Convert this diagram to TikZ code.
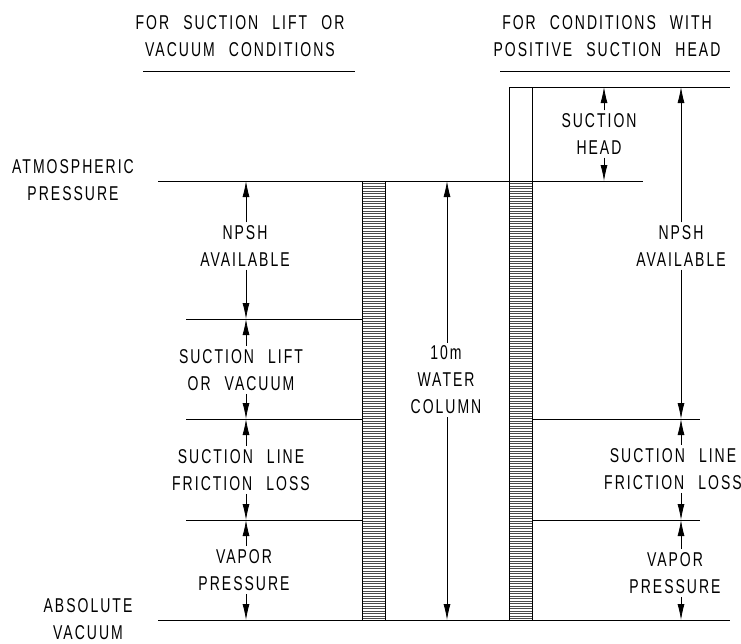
\documentclass[tikz,border=0pt]{standalone}
\usepackage{fontspec}
\setmainfont{Liberation Sans}[FakeStretch=0.7, LetterSpace=10, WordSpace=2.4]
\usetikzlibrary{arrows.meta}

\begin{document}
\begin{tikzpicture}[
  x=1pt, y=-1pt,
  every node/.style={align=center, inner sep=3pt, font=\fontsize{20}{27}\selectfont},
  level/.style={line width=0.8pt},
  dim/.style={-{Latex[length=16pt,width=7pt]}, line width=0.8pt},
  column/.style={draw, line width=1pt},
  hatch/.style={black!70, line width=0.6pt}
]

\useasboundingbox (0,0) rectangle (741,643);

% Levels and arrow positions
\coordinate (xL) at (246,0);
\coordinate (xW) at (447,0);
\coordinate (xH) at (604,0);
\coordinate (xR) at (681,0);
\coordinate (yTop) at (0,87);
\coordinate (yAtm) at (0,181);
\coordinate (yLift) at (0,319);
\coordinate (yFric) at (0,419);
\coordinate (yVap) at (0,520);
\coordinate (yAbs) at (0,620);

% Headings
\node (hdrL) at (240,36) {FOR SUCTION LIFT OR\\VACUUM CONDITIONS};
\node (hdrR) at (607,36) {FOR CONDITIONS WITH\\POSITIVE SUCTION HEAD};
\draw[level] (143,71) -- (355,71);
\draw[level] (500,71) -- (730,71);

% Side labels
\node (atmLbl) at (73,180) {ATMOSPHERIC\\PRESSURE};
\node (absLbl) at (88,619) {ABSOLUTE\\VACUUM};

% Water columns
\foreach \yy in {183.5,186,...,618.5}
  \draw[hatch] (362,\yy) -- (385,\yy);
\foreach \yy in {183.5,186,...,618.5}
  \draw[hatch] (509,\yy) -- (532,\yy);
\draw[column] (362,181) rectangle (385,620);
\draw[column] (509,87) rectangle (532,620);

% Level lines
\draw[level] (509,87) -- (730,87);
\draw[level] (158,181) -- (643,181);
\draw[level] (186,319) -- (362,319);
\draw[level] (186,419) -- (362,419);
\draw[level] (532,419) -- (700,419);
\draw[level] (186,520) -- (362,520);
\draw[level] (532,520) -- (700,520);
\draw[level] (158,620) -- (730,620);

% Left dimensions
\node (npshL) at (245,246) {NPSH\\AVAILABLE};
\node (liftL) at (241,370) {SUCTION LIFT\\OR VACUUM};
\node (fricL) at (241,470) {SUCTION LINE\\FRICTION LOSS};
\node (vapL) at (244,570) {VAPOR\\PRESSURE};

\draw[dim] (npshL.north -| xL) -- (xL |- yAtm);
\draw[dim] (npshL.south -| xL) -- (xL |- yLift);
\draw[dim] (liftL.north -| xL) -- (xL |- yLift);
\draw[dim] (liftL.south -| xL) -- (xL |- yFric);
\draw[dim] (fricL.north -| xL) -- (xL |- yFric);
\draw[dim] (fricL.south -| xL) -- (xL |- yVap);
\draw[dim] (vapL.north -| xL) -- (xL |- yVap);
\draw[dim] (vapL.south -| xL) -- (xL |- yAbs);

% Water column height
\node (water) at (446,380) {10m\\WATER\\COLUMN};
\draw[dim] (water.north -| xW) -- (xW |- yAtm);
\draw[dim] (water.south -| xW) -- (xW |- yAbs);

% Right dimensions
\node (headR) at (599,134) {SUCTION\\HEAD};
\node (npshR) at (681,246) {NPSH\\AVAILABLE};
\node (fricR) at (673,469) {SUCTION LINE\\FRICTION LOSS};
\node (vapR) at (675,573) {VAPOR\\PRESSURE};

\draw[dim] (headR.north -| xH) -- (xH |- yTop);
\draw[dim] (headR.south -| xH) -- (xH |- yAtm);
\draw[dim] (npshR.north -| xR) -- (xR |- yTop);
\draw[dim] (npshR.south -| xR) -- (xR |- yFric);
\draw[dim] (fricR.north -| xR) -- (xR |- yFric);
\draw[dim] (fricR.south -| xR) -- (xR |- yVap);
\draw[dim] (vapR.north -| xR) -- (xR |- yVap);
\draw[dim] (vapR.south -| xR) -- (xR |- yAbs);

\end{tikzpicture}
\end{document}
